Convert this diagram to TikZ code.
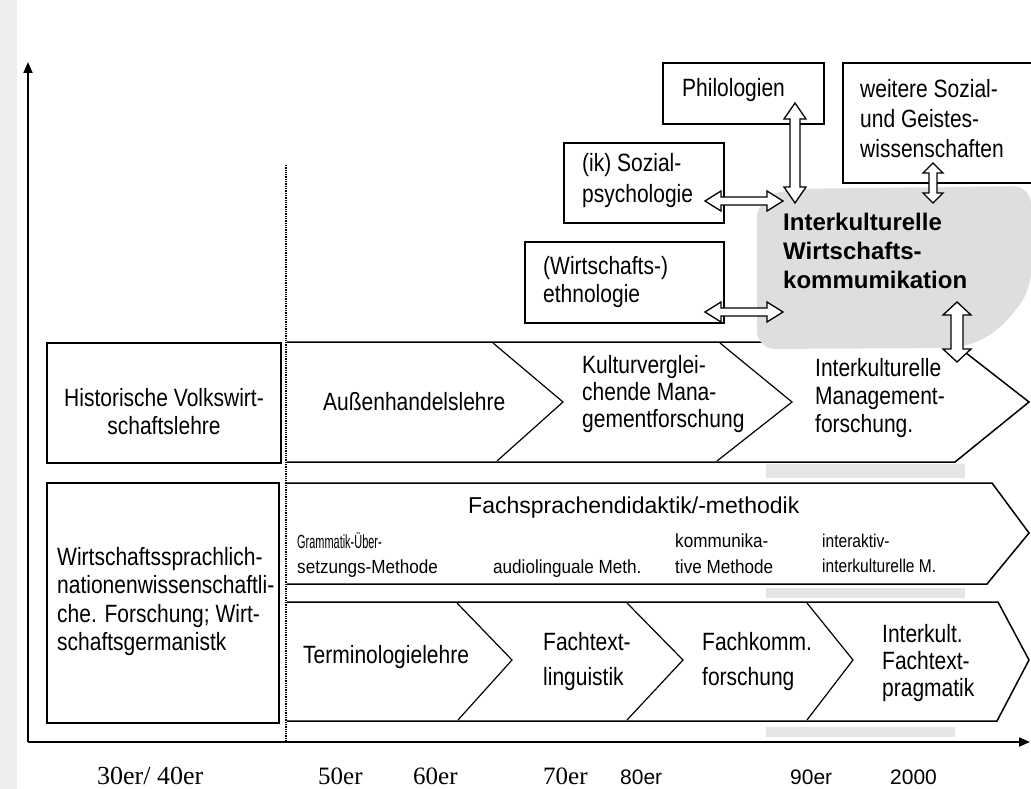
\documentclass[tikz,border=0pt]{standalone}
\usepackage{fontspec}
\setmainfont{Liberation Sans}[FakeStretch=0.84]
\newfontfamily\wide{Liberation Sans}
\newfontfamily\midf{Liberation Sans}[FakeStretch=0.9]
\newfontfamily\yser{Liberation Serif}
\usetikzlibrary{arrows.meta}
\newcommand\fs[2]{\fontsize{#1}{#2}\selectfont}
% vertical hollow double arrow: x, ytop, ybottom, shaft half width, head half width, head length
\newcommand\vdbl[6]{\draw[dbl] (#1,#2) -- ({#1+#5},{#2+#6}) -- ({#1+#4},{#2+#6}) -- ({#1+#4},{#3-#6}) -- ({#1+#5},{#3-#6}) -- (#1,#3) -- ({#1-#5},{#3-#6}) -- ({#1-#4},{#3-#6}) -- ({#1-#4},{#2+#6}) -- ({#1-#5},{#2+#6}) -- cycle;}
% horizontal hollow double arrow: y, xleft, xright, shaft half width, head half width, head length
\newcommand\hdbl[6]{\draw[dbl] (#2,#1) -- ({#2+#6},{#1-#5}) -- ({#2+#6},{#1-#4}) -- ({#3-#6},{#1-#4}) -- ({#3-#6},{#1-#5}) -- (#3,#1) -- ({#3-#6},{#1+#5}) -- ({#3-#6},{#1+#4}) -- ({#2+#6},{#1+#4}) -- ({#2+#6},{#1+#5}) -- cycle;}
\tikzset{
  box/.style={draw=black, line width=1.3pt, fill=white},
  rowline/.style={draw=black, line width=1.5pt, fill=white, line join=miter},
  sepline/.style={draw=black, line width=1.2pt},
  dbl/.style={draw=black, line width=1.3pt, fill=white, line join=miter},
  axisline/.style={draw=black, line width=2pt, -{Triangle[length=11pt,width=9pt]}},
  txt/.style={inner sep=0pt, align=left, anchor=north west, font=\fs{25}{28}},
  lbl/.style={inner sep=0pt, anchor=base west},
}
\begin{document}
\begin{tikzpicture}[x=1pt,y=-1pt]
\useasboundingbox (0,0) rectangle (1031,789);
\fill[white] (0,0) rectangle (1031,789);
% scan margin
\fill[black!7] (0,0) rectangle (17,789);

% axes
\coordinate (O) at (28,742);
\coordinate (Ytop) at (28,62);
\coordinate (Xend) at (1030,742);
\draw[axisline] (O) -- (Ytop);
\draw[axisline] (O) -- (Xend);
% dotted separator
\coordinate (D1) at (286,165);
\coordinate (D2) at (286,742);
\draw[densely dotted, line width=1.3pt] (D1) -- (D2);

% left boxes
\draw[box] (47,343) rectangle (281,463);
\draw[box] (47,483) rectangle (279,723);

% row 1 chevrons
\draw[rowline] (287,342) -- (952,342) -- (1029,402) -- (955,462) -- (287,462);
\draw[sepline] (493,343) -- (563,402) -- (497,461);
\draw[sepline] (720,343) -- (792,402) -- (717,461);
% row 2
\draw[rowline] (287,483) -- (992,483) -- (1029,533) -- (987,584) -- (287,584);
% row 3
\draw[rowline] (287,602) -- (998,602) -- (1029,660) -- (997,721) -- (287,721);
\draw[sepline] (457,603) -- (512,660) -- (458,720);
\draw[sepline] (627,603) -- (683,660) -- (627,720);
\draw[sepline] (807,603) -- (853,660) -- (807,720);

% shaded area
\fill[black!13, rounded corners=18pt] (757,200) -- (785,189) -- (1031,186) -- (1031,290) -- (1000,330) -- (965,348) -- (757,349) -- cycle;
\fill[black!10] (766,464) rectangle (965,478);
\fill[black!10] (766,588) rectangle (965,598);
\fill[black!10] (766,727) rectangle (955,737);

% upper boxes
\draw[box] (663,63) rectangle (824,124);
\draw[box] (564,143) rectangle (724,223);
\draw[box] (525,242) rectangle (724,323);
\fill[white] (843,63) rectangle (1031,183);
\draw[line width=1.3pt] (1031,63) -- (843,63) -- (843,183) -- (1031,183);

% hollow double arrows
\vdbl{795}{103}{203}{5}{11}{16}
\vdbl{933}{163}{203}{4}{10}{10}
\vdbl{957}{302}{362}{6}{14}{13}
\hdbl{201}{705}{783}{4}{10}{16}
\hdbl{312}{705}{783}{4}{10}{16}

% upper texts
\node[lbl, font=\fs{25}{28}] (phil) at (682,97) {Philologien};
\node[txt, font=\fs{25}{30}] (weit) at (860,79.1) {weitere Sozial-\\und Geistes-\\wissenschaften};
\node[txt, font=\fs{25}{31}] (sozps) at (582,153.6) {(ik) Sozial-\\psychologie};
\node[txt, font=\fs{25}{28}] (ethno) at (543,256.6) {(Wirtschafts-)\\ethnologie};
\node[txt, font=\wide\bfseries\fs{24}{29}] (iwk) at (783,212.8) {Interkulturelle\\Wirtschafts-\\kommumikation};

% row 1 texts
\node[inner sep=0pt, anchor=north, align=center, font=\fs{25}{28}] (hist) at (164,388.1) {Historische Volkswirt-\\schaftslehre};
\node[lbl, font=\fs{25}{28}] (aussen) at (323,410) {Außenhandelslehre};
\node[txt, font=\fs{25}{27}] (kultv) at (582,355.1) {Kulturverglei-\\chende Mana-\\gementforschung};
\node[txt, font=\fs{25}{28}] (ikmf) at (815,358.1) {Interkulturelle\\Management-\\forschung.};

% row 2 texts
\node[lbl, font=\wide\fs{23}{28}] (fsd) at (468,513) {Fachsprachendidaktik/-methodik};
\node[lbl, font=\midf\fs{19}{25}] (gram1) at (297,548) {\scalebox{0.64}[1]{Grammatik-Über-}};
\node[lbl, font=\midf\fs{19}{25}] (gram2) at (297,573) {setzungs-Methode};
\node[lbl, font=\midf\fs{19}{25}] (audio) at (493,573) {audiolinguale Meth.};
\node[txt, font=\midf\fs{19}{26}] (komm) at (675,533.4) {kommunika-\\tive Methode};
\node[txt, font=\fs{18.5}{25}] (inter) at (822,533.8) {interaktiv-\\interkulturelle M.};

% left box 2 text
\node[txt, font=\fs{25}{28.5}] (wsp) at (57,547.1) {Wirtschaftssprachlich-\\nationenwissenschaftli-\\che. Forschung; Wirt-\\schaftsgermanistk};

% row 3 texts
\node[lbl, font=\fs{25}{28}] (term) at (303,663) {Terminologielehre};
\node[txt, font=\fs{25}{35}] (ftl) at (543,632.1) {Fachtext-\\linguistik};
\node[txt, font=\fs{25}{35}] (fkf) at (702,632.1) {Fachkomm.\\forschung};
\node[txt, font=\fs{25}{27}] (iftp) at (882,624.1) {Interkult.\\Fachtext-\\pragmatik};

% year labels
\node[lbl, font=\yser\fs{26}{28}] (y3040) at (97,784) {30er/ 40er};
\node[lbl, font=\yser\fs{25}{28}] (y50) at (318,784) {50er};
\node[lbl, font=\yser\fs{25}{28}] (y60) at (413,784) {60er};
\node[lbl, font=\yser\fs{25}{28}] (y70) at (543,784) {70er};
\node[lbl, font=\wide\fs{21}{24}] (y80) at (620,784) {80er};
\node[lbl, font=\wide\fs{21}{24}] (y90) at (790,784) {90er};
\node[lbl, font=\wide\fs{21}{24}] (y2000) at (890,784) {2000};
\end{tikzpicture}
\end{document}
